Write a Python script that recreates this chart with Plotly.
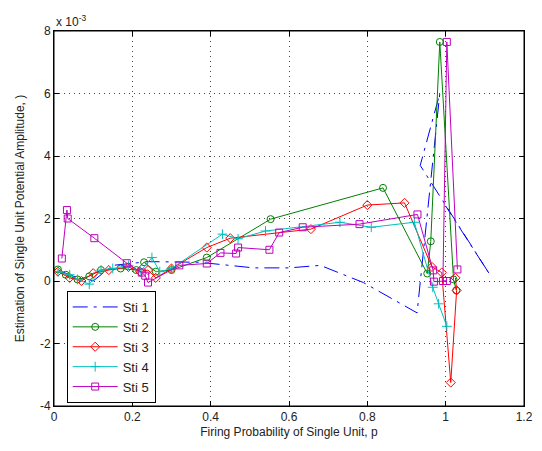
import plotly.graph_objects as go

# values in units of 1e-3
sti1_x = [0.02, 0.06, 0.10, 0.15, 0.24, 0.37, 0.51, 0.60, 0.68, 0.79, 0.927, 0.957, 0.985, 0.935, 1.113, 1.0]
sti1_y = [0.30, 0.10, 0.00, 0.50, 0.62, 0.60, 0.42, 0.42, 0.50, -0.05, -1.02, 2.5, 6.0, 3.7, 0.2, 2.4]

sti2_x = [0.01, 0.03, 0.06, 0.09, 0.12, 0.17, 0.21, 0.23, 0.26, 0.30, 0.39, 0.553, 0.84, 0.953, 0.962, 0.985, 1.02, 1.027]
sti2_y = [0.37, 0.20, 0.05, 0.15, 0.35, 0.40, 0.35, 0.60, 0.30, 0.35, 0.75, 1.98, 2.98, 0.24, 1.27, 7.65, 0.05, -0.30]

sti3_x = [0.01, 0.04, 0.07, 0.10, 0.14, 0.19, 0.22, 0.24, 0.26, 0.30, 0.39, 0.45, 0.656, 0.80, 0.895, 0.965, 0.99, 1.013, 1.028, 1.025]
sti3_y = [0.30, 0.10, 0.00, 0.25, 0.35, 0.45, 0.30, 0.35, 0.10, 0.40, 1.07, 1.37, 1.66, 2.43, 2.50, 0.45, 0.27, -3.25, -0.30, 0.10]

sti4_x = [0.01, 0.04, 0.06, 0.09, 0.12, 0.15, 0.19, 0.22, 0.25, 0.27, 0.30, 0.43, 0.47, 0.54, 0.73, 0.81, 0.92, 0.967, 0.982, 1.003]
sti4_y = [0.30, 0.20, 0.05, -0.10, 0.35, 0.40, 0.50, 0.30, 0.75, 0.30, 0.40, 1.50, 1.35, 1.60, 1.88, 1.72, 1.88, -0.20, -0.73, -1.45]

sti5_x = [0.02, 0.033, 0.035, 0.103, 0.186, 0.224, 0.233, 0.24, 0.32, 0.39, 0.425, 0.465, 0.47, 0.55, 0.575, 0.635, 0.78, 0.928, 0.968, 0.97, 1.003, 0.993, 1.003, 1.03]
sti5_y = [0.72, 2.27, 2.00, 1.37, 0.57, 0.27, 0.17, -0.05, 0.50, 0.56, 0.90, 0.88, 1.07, 1.00, 1.55, 1.72, 1.82, 2.13, 0.34, -0.02, 0.00, 0.00, 7.65, 0.37]

x_ticks = [0, 0.2, 0.4, 0.6, 0.8, 1, 1.2]
x_labels = ["0", "0.2", "0.4", "0.6", "0.8", "1", "1.2"]
y_ticks = [-4, -2, 0, 2, 4, 6, 8]
y_labels = ["-4", "-2", "0", "2", "4", "6", "8"]

series = [
    ("Sti 1", sti1_x, sti1_y, "#0000FF", "longdashdot", None),
    ("Sti 2", sti2_x, sti2_y, "#008000", "solid", "circle-open"),
    ("Sti 3", sti3_x, sti3_y, "#FF0000", "solid", "diamond-open"),
    ("Sti 4", sti4_x, sti4_y, "#00BFBF", "solid", "cross-thin-open"),
    ("Sti 5", sti5_x, sti5_y, "#BF00BF", "solid", "square-open"),
]

fig = go.Figure()
for name, xs, ys, col, dash, sym in series:
    mode = "lines" if sym is None else "lines+markers"
    fig.add_trace(go.Scatter(
        x=xs, y=ys, name=name, mode=mode,
        line=dict(color=col, width=1, dash=dash),
        marker=dict(symbol=sym or "circle", size=7, color=col, line=dict(color=col, width=1)),
    ))

axis_common = dict(
    showline=True, linecolor="black", linewidth=1, mirror="ticks",
    ticks="inside", ticklen=5, tickcolor="black",
    showgrid=True, gridcolor="#444444", griddash="1px,4px", gridwidth=1,
    zeroline=False, tickfont=dict(size=12, color="#222222"), automargin=False,
)

# page body has an 8px margin, the figure sits beside it
fig.update_layout(
    width=534, height=443,
    margin=dict(l=46, r=18, t=23, b=45),
    paper_bgcolor="white", plot_bgcolor="white",
    font=dict(family="Liberation Sans, Arial, sans-serif", size=12, color="#222222"),
    xaxis=dict(range=[0, 1.2], tickvals=x_ticks, ticktext=x_labels,
               title=dict(text="Firing Probability of Single Unit, p", standoff=4, font=dict(size=12)),
               **axis_common),
    yaxis=dict(range=[-4, 8], tickvals=y_ticks, ticktext=y_labels,
               title=dict(text="Estimation of Single Unit Potential Amplitude, )", standoff=12, font=dict(size=12)),
               **axis_common),
    legend=dict(x=0.027, y=0.008, xanchor="left", yanchor="bottom",
                bgcolor="white", bordercolor="black", borderwidth=1,
                font=dict(size=13), tracegroupgap=0, itemwidth=45),
    showlegend=True,
    shapes=[dict(type="rect", xref="paper", yref="paper", x0=0, x1=1, y0=0, y1=1,
                 line=dict(color="black", width=1), layer="above")],
    annotations=[dict(text="x 10<sup>-3</sup>", xref="paper", yref="paper", x=0, y=1.0,
                      xanchor="left", yanchor="bottom", showarrow=False, font=dict(size=12))],
)

fig.write_html("out.html")
